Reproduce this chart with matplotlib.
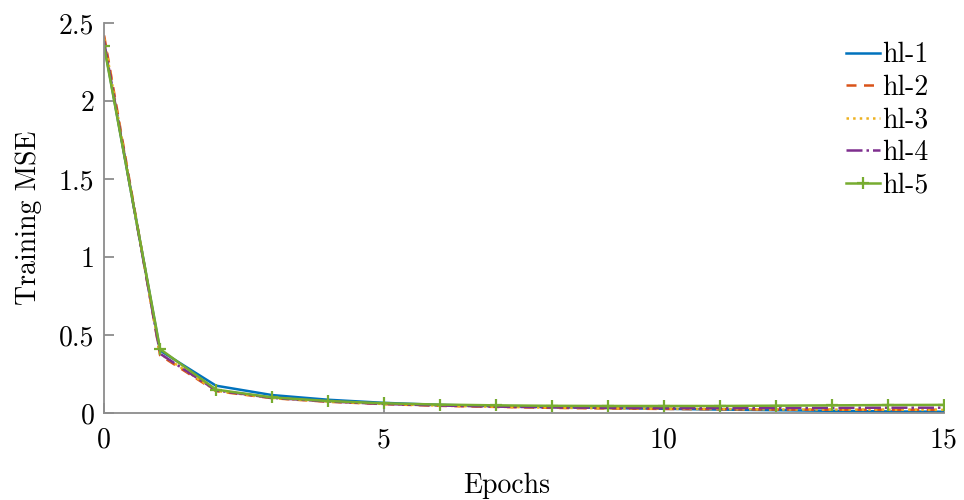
import numpy as np
import matplotlib
matplotlib.use("Agg")
import matplotlib.pyplot as plt

# LaTeX-like look (Computer Modern shipped with matplotlib)
plt.rcParams['font.family'] = ['cmr10', 'DejaVu Serif']
plt.rcParams['axes.unicode_minus'] = False

epochs = np.arange(16)
hl1 = [2.36, 0.40, 0.175, 0.115, 0.085, 0.065, 0.052, 0.045, 0.038, 0.032, 0.027, 0.022, 0.018, 0.014, 0.010, 0.008]
hl2 = [2.42, 0.37, 0.140, 0.095, 0.072, 0.057, 0.046, 0.039, 0.033, 0.029, 0.026, 0.024, 0.022, 0.021, 0.020, 0.020]
hl3 = [2.40, 0.38, 0.142, 0.096, 0.073, 0.058, 0.047, 0.040, 0.034, 0.030, 0.027, 0.025, 0.023, 0.022, 0.021, 0.020]
hl4 = [2.38, 0.38, 0.145, 0.097, 0.074, 0.058, 0.048, 0.041, 0.036, 0.033, 0.031, 0.031, 0.032, 0.033, 0.034, 0.034]
hl5 = [2.35, 0.41, 0.150, 0.100, 0.077, 0.062, 0.054, 0.049, 0.046, 0.045, 0.045, 0.045, 0.047, 0.049, 0.051, 0.052]
labels = ['hl-1', 'hl-2', 'hl-3', 'hl-4', 'hl-5']

fig = plt.figure(figsize=(9.64, 5.0), dpi=100)
ax = fig.add_axes([0.108, 0.174, 0.871, 0.78])

ax.plot(epochs, hl1, color='#0072BD', ls='-', lw=1.8, label=labels[0])
ax.plot(epochs, hl2, color='#D95319', ls=(0, (4, 3)), lw=1.8, label=labels[1])
ax.plot(epochs, hl3, color='#EDB120', ls=':', lw=1.8, label=labels[2])
ax.plot(epochs, hl4, color='#7E2F8E', ls='-.', lw=1.8, label=labels[3])
ax.plot(epochs, hl5, color='#77AC30', ls='-', lw=1.8, marker='+', ms=9, mew=1.6, label=labels[4])

ax.set_xlim(0, 15)
ax.set_ylim(0, 2.5)
ax.set_xticks([0, 5, 10, 15])
ax.set_yticks([0, 0.5, 1, 1.5, 2, 2.5])
ax.set_yticklabels(['0', '0.5', '1', '1.5', '2', '2.5'])

for s in ['top', 'right']:
    ax.spines[s].set_visible(False)
for s in ['left', 'bottom']:
    ax.spines[s].set_color('#8c8c8c')
    ax.spines[s].set_linewidth(1.3)
ax.tick_params(direction='in', length=7, width=1.3, color='#8c8c8c', labelsize=20)
ax.tick_params(axis='x', pad=10)
ax.tick_params(axis='y', pad=7)

ax.set_xlabel('Epochs', fontsize=20)
ax.xaxis.set_label_coords(0.48, -0.152)
ax.set_ylabel('Training MSE', fontsize=20, labelpad=12)

ax.legend(loc='upper right', frameon=False, fontsize=20, handlelength=1.25,
          handletextpad=0.08, labelspacing=0.22, bbox_to_anchor=(1.012, 1.015))

fig.savefig('out.png', dpi=100)
